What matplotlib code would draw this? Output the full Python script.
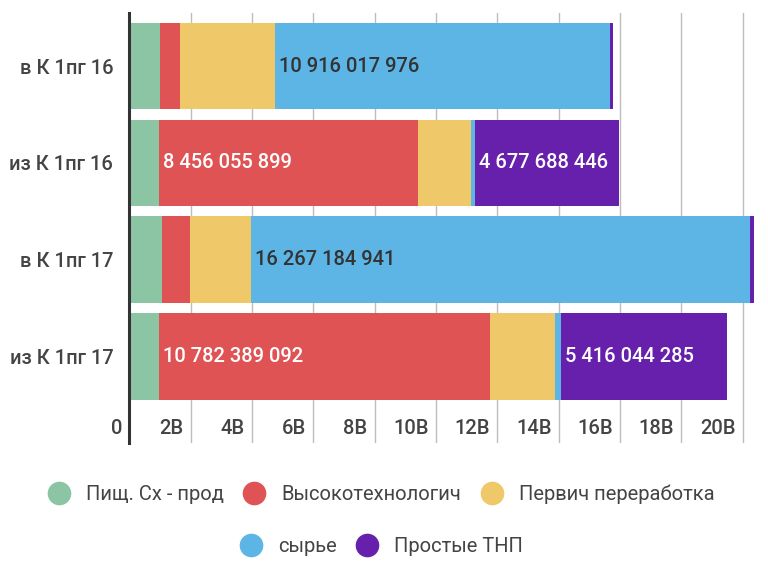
#!/usr/bin/env python3
# -*- coding: utf-8 -*-

import matplotlib
matplotlib.use('Agg')
import matplotlib.pyplot as plt
from matplotlib.lines import Line2D

categories = ['в К 1пг 16', 'из К 1пг 16', 'в К 1пг 17', 'из К 1пг 17']
series = ['Пищ. Сх - прод', 'Высокотехнологич', 'Первич переработка',
          'сырье', 'Простые ТНП']

food = [1010000000, 960000000, 1080000000, 980000000]
hitech = [650000000, 8456055899, 910000000, 10782389092]
primary = [3090000000, 1730000000, 1970000000, 2120000000]
raw = [10916017976, 140000000, 16267184941, 200000000]
simple = [100000000, 4677688446, 150000000, 5416044285]

tick_values = [0, 2e9, 4e9, 6e9, 8e9, 10e9, 12e9, 14e9, 16e9, 18e9, 20e9]
tick_labels = ['0', '2B', '4B', '6B', '8B', '10B', '12B', '14B', '16B',
               '18B', '20B']

colors = ['#8cc5a3', '#e05355', '#efc86a', '#5db5e6', '#6720ac']
text_colors = ['#ffffff', '#ffffff', '#333333', '#333333', '#ffffff']

plt.rcParams['font.family'] = ['Roboto', 'DejaVu Sans']


def main():
    fig = plt.figure(figsize=(7.68, 5.63), dpi=100)
    ax = fig.add_axes([129.3 / 768, 1 - 443 / 563, 631.7 / 768, 429.7 / 563])

    data = [food, hitech, primary, raw, simple]
    ys = list(range(len(categories)))
    left = [0] * len(categories)
    for vals, color, tcolor in zip(data, colors, text_colors):
        ax.barh(ys, vals, left=left, height=0.895, color=color, zorder=2)
        for y, v, l in zip(ys, vals, left):
            if v > 4e9:
                ax.annotate(f'{v:,}'.replace(',', ' '), xy=(l, y),
                            xytext=(4, 0), textcoords='offset pixels',
                            ha='left', va='center', color=tcolor,
                            fontsize=14.5, fontweight='medium', zorder=3)
        left = [a + b for a, b in zip(left, vals)]

    ax.set_xlim(0, 20.6e9)
    ax.set_ylim(3.89, -0.544)
    ax.set_yticks(ys)
    ax.set_yticklabels(categories, fontsize=14.5, color='#444444',
                       fontweight='medium')
    ax.tick_params(axis='y', length=0, pad=11.5)
    ax.set_xticks(tick_values)
    ax.set_xticklabels([])
    ax.tick_params(axis='x', length=0)
    ax.grid(axis='x', color='#bdbdbd', lw=1.0, zorder=0)
    for t, lab in zip(tick_values, tick_labels):
        ax.annotate(lab, xy=(t, 0.033), xycoords=('data', 'axes fraction'),
                    xytext=(-7, 0), textcoords='offset pixels',
                    ha='right', va='center', fontsize=14.5,
                    color='#444444', fontweight='medium')

    for s in ['top', 'right', 'bottom']:
        ax.spines[s].set_visible(False)
    ax.spines['left'].set_color('#333333')
    ax.spines['left'].set_linewidth(2.2)
    ax.spines['left'].set_zorder(4)

    handles = [Line2D([], [], marker='o', ls='', markersize=16,
                      markerfacecolor=c, markeredgecolor=c) for c in colors]
    opts = dict(frameon=False, fontsize=14.5, handlelength=1.0,
                handletextpad=0.85, columnspacing=1.0, loc='center',
                labelcolor='#444444')
    fig.legend(handles[:3], series[:3], ncol=3,
               bbox_to_anchor=(0.497, 1 - 494 / 563), **opts)
    fig.legend(handles[3:], series[3:], ncol=2,
               bbox_to_anchor=(0.497, 1 - 547 / 563), **opts)

    fig.savefig('out.png', dpi=100)


if __name__ == "__main__":
    main()
